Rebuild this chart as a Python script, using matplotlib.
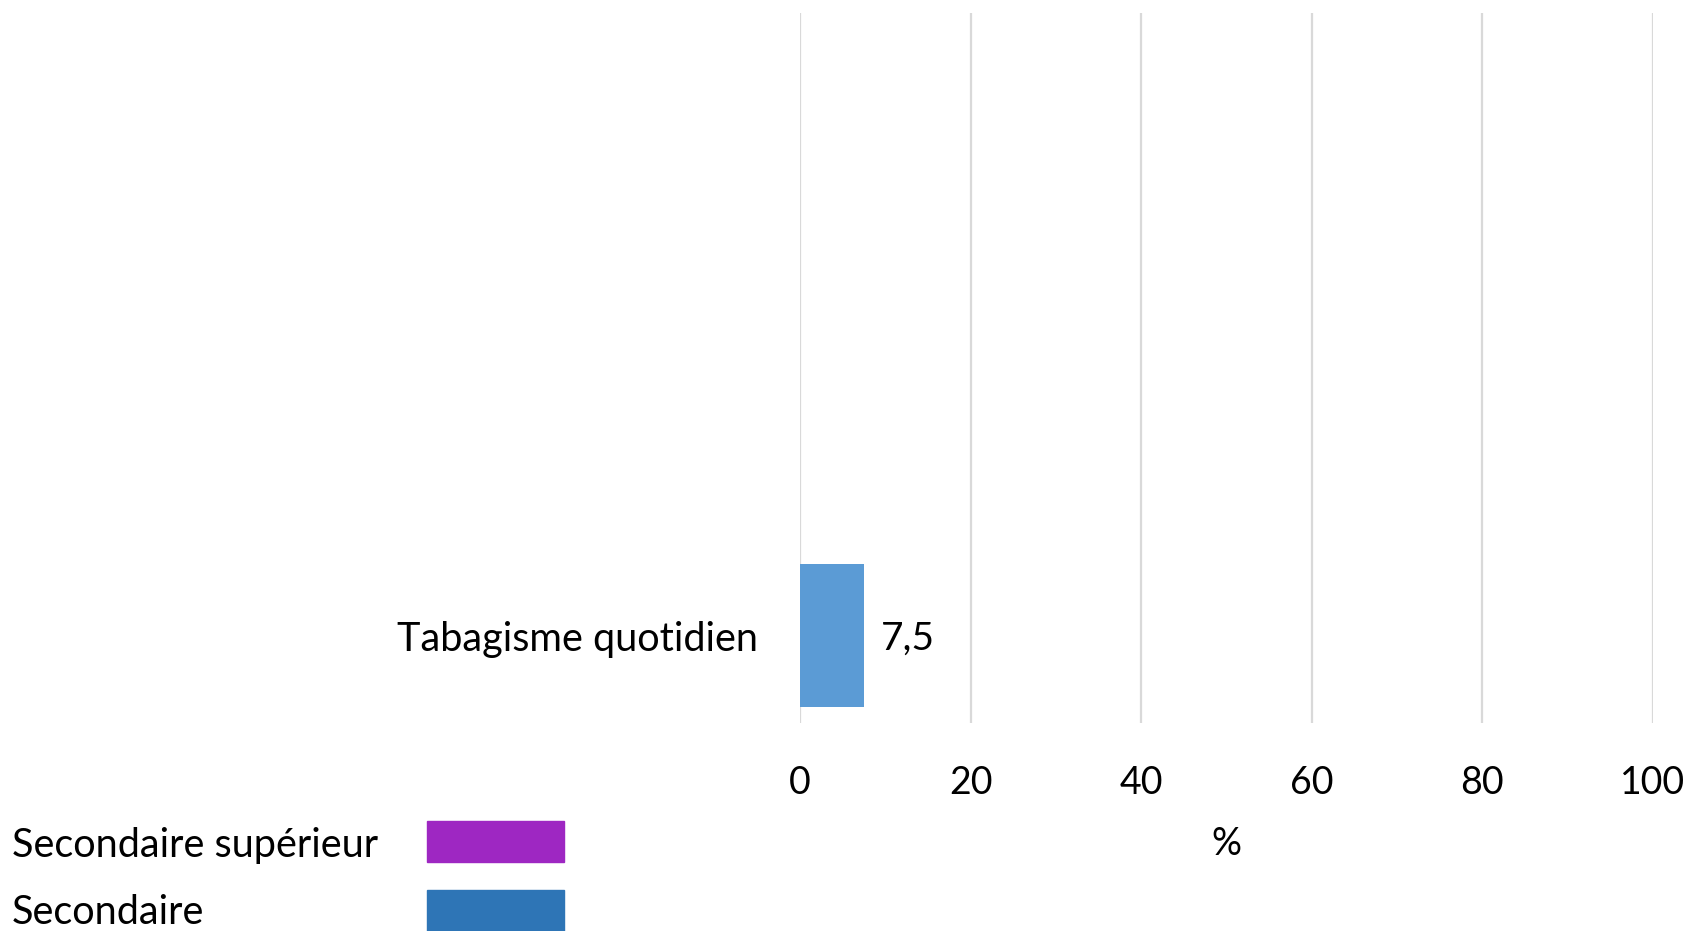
import matplotlib.pyplot as plt
from matplotlib.patches import Rectangle

plt.rcParams['font.family'] = ['Lato', 'DejaVu Sans']

categories = ["Tabagisme quotidien"]
values = [7.5]
value_labels = ["7,5"]
xticks = [0, 20, 40, 60, 80, 100]
legend_labels = ["Secondaire supérieur", "Secondaire"]
legend_colors = ["#9E27C2", "#2E75B6"]

W, H = 1690, 931
fig = plt.figure(figsize=(W / 100, H / 100), dpi=100)
ax = fig.add_axes([800 / W, 1 - 723 / H, 853 / W, 710 / H])

y = list(range(len(categories)))
ax.barh(y, values, height=0.6, color="#5B9BD5", zorder=3)
for yi, v, lab in zip(y, values, value_labels):
    ax.annotate(lab, (v, yi), xytext=(12, -2), textcoords="offset points",
                va="center", ha="left", fontsize=28)

ax.set_xlim(0, 100)
ax.set_ylim(-0.367, 2.612)
ax.set_xticks(xticks)
ax.set_xticklabels([str(t) for t in xticks], fontsize=27)
ax.set_yticks(y)
ax.set_yticklabels(categories, fontsize=28.5)
ax.tick_params(axis="x", length=0, pad=30)
ax.tick_params(axis="y", length=0, pad=30)
ax.grid(axis="x", color="#D9D9D9", linewidth=1.6, zorder=0)
for s in ax.spines.values():
    s.set_visible(False)
ax.set_xlabel("%", fontsize=27, labelpad=18)

# legend drawn by hand: text left, swatch right
legend_y = [841, 911]
text_y = [846, 913]
for lab, col, ly, ty in zip(legend_labels, legend_colors, legend_y, text_y):
    fig.text(12 / W, 1 - ty / H, lab, fontsize=28.5, va="center", ha="left")
    fig.patches.append(Rectangle((427 / W, 1 - (ly + 20.5) / H), 137 / W, 41 / H,
                                 transform=fig.transFigure, color=col))

fig.savefig("out.png", dpi=100)
